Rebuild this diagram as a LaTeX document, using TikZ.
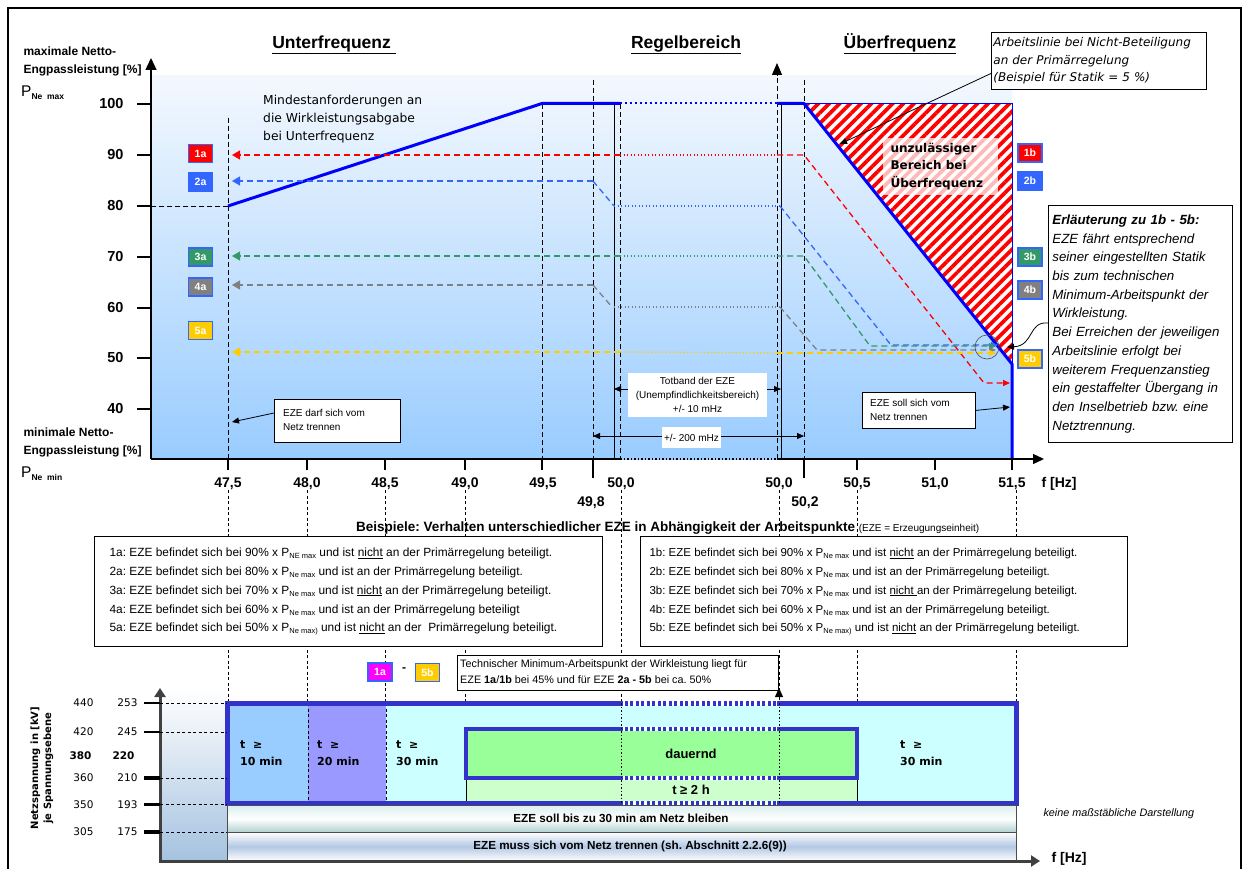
\documentclass[tikz,border=0pt]{standalone}
\usepackage{fontspec}
\setmainfont{Liberation Sans}
\newfontfamily\dv{DejaVu Sans}
\usetikzlibrary{arrows.meta,patterns.meta}
\newcommand\fs[2]{\fontsize{#1}{#2}\selectfont}
\newcommand\Psb[1]{P\raisebox{-2.2pt}{\fs{7.5}{7.5}#1}}
\definecolor{cRed}{HTML}{FF0000}
\definecolor{cBlue}{HTML}{3366FF}
\definecolor{cGreen}{HTML}{339966}
\definecolor{cGrey}{HTML}{808080}
\definecolor{cYel}{HTML}{FFCC00}
\definecolor{cMag}{HTML}{FF00FF}
\definecolor{lineBlue}{HTML}{0000FF}
\definecolor{frameBlue}{HTML}{3333CC}
\definecolor{skyB}{HTML}{99CCFF}
\definecolor{topB}{HTML}{F3F8FE}
\definecolor{lila}{HTML}{9999FF}
\definecolor{cyanL}{HTML}{CCFFFF}
\definecolor{greenM}{HTML}{99FF99}
\definecolor{greenL}{HTML}{CCFFCC}
\definecolor{axGrey}{HTML}{404040}
\definecolor{steel}{HTML}{A4C2E0}
\definecolor{tealA}{HTML}{DCEEEE}
\definecolor{tealB}{HTML}{B4D2D2}
\definecolor{bandB}{HTML}{B4C8E4}
\frenchspacing
\begin{document}
\frenchspacing
\begin{tikzpicture}[x=1pt,y=-1pt,
  dl/.style={line width=1.3pt,dash pattern=on 6pt off 4pt},
  dotl/.style={line width=1.3pt,dash pattern=on 1.3pt off 2.2pt},
  vgrid/.style={line width=1pt,dash pattern=on 5pt off 3pt},
  thgrid/.style={line width=0.6pt,dash pattern=on 3pt off 2.5pt},
  lab/.style={draw=cBlue,line width=1.3pt,text=white,font=\bfseries\fs{10.5}{10.5},minimum width=24pt,minimum height=18pt,inner sep=0pt},
  tipA/.style={-{Triangle[length=8pt,width=9pt]}},
  tipB/.style={-{Triangle[length=7pt,width=6pt]}},
  tipC/.style={{Triangle[length=7pt,width=6pt]}-{Triangle[length=7pt,width=6pt]}},
  ytl/.style={anchor=east,font=\bfseries\fs{14.5}{14.5}},
  xtl/.style={anchor=base,font=\bfseries\fs{14}{14}},
  exlA/.style={anchor=base west,font=\fs{11.9}{11.9}},
  exlB/.style={anchor=base west,font=\fs{11.5}{11.5}},
  vl/.style={anchor=east,font=\dv\fs{10.5}{10.5}},
  blk/.style={anchor=north west,inner sep=0pt,font=\dv\bfseries\fs{11}{17},align=left},
  tbox/.style={draw,fill=white,line width=0.8pt,inner sep=0pt},
]
\useasboundingbox (0,0) rectangle (1244,869);
\fill[white] (0,0) rectangle (1244,869);
% outer frame
\draw[line width=1.5pt] (8,869) -- (8,8) -- (1241,8) -- (1241,869);

% ================= upper chart =================
\shade[top color=topB,bottom color=skyB] (151,76) rectangle (1012,459);

% vertical dashed lines in chart
\draw[vgrid] (228,118) -- (228,459);
\draw[vgrid] (542,104) -- (542,459);
\draw[vgrid] (593,80) -- (593,459);
\draw[vgrid] (620,104) -- (620,459);
\draw[vgrid] (804,80) -- (804,459);
\draw[vgrid,-{Triangle[length=12pt,width=10pt]}] (777,459) -- (777,63);
\draw[line width=0.8pt] (614,104) -- (614,459);
\draw[line width=0.8pt] (781,104) -- (781,459);
\draw[vgrid] (151,206) -- (228,206);

% hatched forbidden area
\path[fill=white] (804,103.5) -- (1012,103.5) -- (1012,364) -- cycle;
\path[pattern={Lines[angle=45,distance=7.5pt,line width=3.7pt]},pattern color=cRed] (804,103.5) -- (1012,103.5) -- (1012,364) -- cycle;
\draw[lineBlue,line width=0.8pt] (804,103.5) -- (1012,103.5) -- (1012,364);
\node[fill=white,fill opacity=0.72,text opacity=1,anchor=north west,minimum width=115pt,minimum height=57pt,inner sep=0pt] (forbidbg) at (883,138) {};
\node[anchor=base west,font=\dv\bfseries\fs{12}{12}] (forb1) at (887,152.5) {unzulässiger};
\node[anchor=base west,font=\dv\bfseries\fs{12}{12}] (forb2) at (887,170) {Bereich bei};
\node[anchor=base west,font=\dv\bfseries\fs{12}{12}] (forb3) at (887,187.5) {Überfrequenz};

% minimum requirement line
\draw[lineBlue,line width=3pt,line join=round] (228,206) -- (542,103.5) -- (620,103.5);
\draw[lineBlue,line width=2pt,dash pattern=on 2pt off 3pt] (620,103.5) -- (777,103.5);
\draw[lineBlue,line width=3pt,line join=round] (777,103.5) -- (804,103.5) -- (1012,364) -- (1012,459);

% data lines
% 1 red
\draw[cRed,dl,tipA] (620,155) -- (232,155);
\draw[cRed,dotl] (620,155) -- (777,155);
\draw[cRed,dl,tipB] (777,155) -- (804,155) -- (984,383) -- (1010,383);
% 2 blue
\draw[cBlue,dl,tipA] (593,181) -- (232,181);
\draw[cBlue,dl] (593,181) -- (614,206);
\draw[cBlue,dotl] (614,206) -- (780,206);
\draw[cBlue,dl,tipB] (780,206) -- (891,345) -- (998,345);
% 3 green
\draw[cGreen,dl,tipA] (620,256) -- (232,256);
\draw[cGreen,dotl] (620,256) -- (777,256);
\draw[cGreen,dl,tipB] (777,256) -- (804,256) -- (870,346) -- (996,346);
% 4 grey
\draw[cGrey,dl,tipA] (593,285) -- (232,285);
\draw[cGrey,dl] (593,285) -- (612,307);
\draw[cGrey,dotl] (614,307) -- (780,307);
\draw[cGrey,dl,tipB] (780,307) -- (817,350) -- (996,350);
% 5 yellow
\draw[cYel,dl,tipA] (620,352) -- (232,352);
\draw[cYel,dotl] (620,352) -- (777,353);
\draw[cYel,dl,tipB] (777,353) -- (996,353);

% axes
\draw[line width=1.3pt,-{Triangle[length=12pt,width=11pt]}] (151,459) -- (151,58);
\draw[line width=1.3pt] (151,459) -- (620,459);
\draw[line width=1.3pt,dash pattern=on 1.5pt off 2pt] (620,459) -- (777,459);
\draw[line width=1.3pt,-{Triangle[length=11pt,width=10pt]}] (777,459) -- (1044,459);

% y ticks and labels
\foreach \v/\yy in {100/104,90/155,80/206,70/257,60/308,50/358,40/409}{
  \draw[line width=1.6pt] (137,\yy) -- (151,\yy);
  \node[ytl] (yt\v) at (127,\yy) {\v};
}
% x ticks
\foreach \xx in {228,307,385,465,542,857,935,1012}{
  \draw[line width=1.2pt] (\xx,459) -- (\xx,470);
}
\draw[line width=1.2pt] (593,459) -- (593,478);
\draw[line width=1.2pt] (804,459) -- (804,478);
\node[xtl] (x475) at (228,487) {47,5};
\node[xtl] (x480) at (307,487) {48,0};
\node[xtl] (x485) at (385,487) {48,5};
\node[xtl] (x490) at (465,487) {49,0};
\node[xtl] (x495) at (543,487) {49,5};
\node[xtl] (x498) at (591,506) {49,8};
\node[xtl] (x500a) at (621,487) {50,0};
\node[xtl] (x500b) at (779,487) {50,0};
\node[xtl] (x502) at (805,506) {50,2};
\node[xtl] (x505) at (857,487) {50,5};
\node[xtl] (x510) at (935,487) {51,0};
\node[xtl] (x515) at (1012,487) {51,5};
\node[anchor=base west,font=\bfseries\fs{14}{14}] (fhz) at (1038,487) {f [Hz]};

% axis titles
\node[anchor=base west,font=\bfseries\fs{12}{12}] (ymax1) at (20,55.7) {maximale Netto-};
\node[anchor=base west,font=\bfseries\fs{12}{12}] (ymax2) at (20,73.5) {Engpassleistung [\%]};
\node[anchor=base west,inner sep=0pt] (pmax) at (21,96.7) {\fs{15.5}{15.5}P\raisebox{-3pt}{\bfseries\fs{8.5}{8.5}Ne\ \ max}};
\node[anchor=base west,font=\bfseries\fs{12}{12}] (ymin1) at (20,436.5) {minimale Netto-};
\node[anchor=base west,font=\bfseries\fs{12}{12}] (ymin2) at (20,454.5) {Engpassleistung [\%]};
\node[anchor=base west,inner sep=0pt] (pmin) at (21,477) {\fs{15.5}{15.5}P\raisebox{-3pt}{\bfseries\fs{8.5}{8.5}Ne\ \ min}};

% titles
\node[anchor=base,font=\bfseries\fs{17.5}{17.5}] (tUnter) at (334,48.5) {\underline{Unterfrequenz\ }};
\node[anchor=base,font=\bfseries\fs{17.5}{17.5}] (tRegel) at (686,48.5) {\underline{Regelbereich}};
\node[anchor=base,font=\bfseries\fs{17.5}{17.5}] (tUeber) at (900,48.5) {\underline{Überfrequenz}};

% Mindestanforderungen text
\node[anchor=base west,font=\dv\fs{12.3}{12.3},inner sep=0pt] (mind1) at (263,104.5) {Mindestanforderungen an};
\node[anchor=base west,font=\dv\fs{12.3}{12.3},inner sep=0pt] (mind2) at (263,122.5) {die Wirkleistungsabgabe};
\node[anchor=base west,font=\dv\fs{12.3}{12.3},inner sep=0pt] (mind3) at (263,140.5) {bei Unterfrequenz};

% label boxes
\node[lab,fill=cRed] (l1a) at (200.5,153.5) {1a};
\node[lab,fill=cBlue] (l2a) at (200.5,182) {2a};
\node[lab,fill=cGreen] (l3a) at (200.5,257) {3a};
\node[lab,fill=cGrey] (l4a) at (200.5,287) {4a};
\node[lab,fill=cYel] (l5a) at (200.5,330.5) {5a};
\node[lab,fill=cRed] (l1b) at (1030,153) {1b};
\node[lab,fill=cBlue] (l2b) at (1030,181) {2b};
\node[lab,fill=cGreen] (l3b) at (1030,257) {3b};
\node[lab,fill=cGrey] (l4b) at (1030,290) {4b};
\node[lab,fill=cYel] (l5b) at (1030,359) {5b};

% Totband
\coordinate (tbL) at (614,389);
\coordinate (tbR) at (781,389);
\draw[line width=0.8pt,tipC] (tbL) -- (tbR);
\node[fill=white,minimum width=139pt,minimum height=44pt,inner sep=0pt,align=center,font=\fs{10}{14}] (totband) at (697.5,395) {Totband der EZE\\(Unempfindlichkeitsbereich)\\+/- 10 mHz};
\coordinate (dbL) at (593,436);
\coordinate (dbR) at (804,436);
\draw[line width=0.8pt,tipC] (dbL) -- (dbR);
\node[fill=white,minimum width=59pt,minimum height=21pt,inner sep=0pt,font=\fs{10}{10}] (db200) at (691.5,437.5) {+/- 200 mHz};

% EZE darf / soll trennen boxes
\node[tbox,anchor=north west,minimum width=126pt,minimum height=43pt] (darf) at (274,399) {};
\node[anchor=base west,font=\fs{10}{10},inner sep=0pt] (darf1) at (283,416) {EZE darf sich vom};
\node[anchor=base west,font=\fs{10}{10},inner sep=0pt] (darf2) at (283,430) {Netz trennen};
\coordinate (darfTip) at (232,422);
\draw[line width=0.8pt,tipB] (274,413) -- (darfTip);
\node[tbox,anchor=north west,minimum width=113pt,minimum height=36pt] (soll) at (862,392) {};
\node[anchor=base west,font=\fs{10}{10},inner sep=0pt] (soll1) at (870,406) {EZE soll sich vom};
\node[anchor=base west,font=\fs{10}{10},inner sep=0pt] (soll2) at (870,420) {Netz trennen};
\coordinate (sollTip) at (1010,407);
\draw[line width=0.8pt,tipB] (soll.east) -- (sollTip);

% Arbeitslinie callout
\node[tbox,anchor=north west,minimum width=215pt,minimum height=57pt,text width=211pt,align=left,inner xsep=2pt,font=\dv\itshape\fs{12}{17.3}] (arb) at (991,32) {Arbeitslinie bei Nicht-Beteiligung\\an der Primärregelung\\(Beispiel für Statik = 5 \%)};
\coordinate (arbTip) at (840,144);
\draw[line width=0.8pt,tipB] (992,73) -- (arbTip);

% explanation box
\node[tbox,anchor=north west,minimum width=184pt,minimum height=237pt,text width=176pt,inner xsep=4pt,align=left,font=\itshape\fs{13.3}{18.7}] (expl) at (1048,205) {\textbf{Erläuterung zu 1b - 5b:}\\EZE fährt entsprechend\\seiner eingestellten Statik\\bis zum technischen\\Minimum-Arbeitspunkt der\\Wirkleistung.\\Bei Erreichen der jeweiligen\\Arbeitslinie erfolgt bei\\weiterem Frequenzanstieg\\ein gestaffelter Übergang in\\den Inselbetrieb bzw. eine\\Netztrennung.};
\node[draw=black!70,circle,minimum size=24pt,inner sep=0pt,line width=0.6pt] (circ) at (987,347) {};
\coordinate (explTip) at (1007,347);
\draw[line width=0.8pt,tipB] (1048,323) .. controls (1028,321) and (1034,346) .. (explTip);

% ================= examples =================
\node[anchor=base west,font=\bfseries\fs{13.5}{13.5},inner sep=0pt] (beisp) at (356,531) {Beispiele: Verhalten unterschiedlicher EZE in Abhängigkeit der Arbeitspunkte \fs{10}{10}\mdseries(EZE = Erzeugungseinheit)};

% grid lines below axis
\foreach \xx in {228,307,385,465,621,857,1016}{
  \draw[thgrid] (\xx,490) -- (\xx,703);
}
\draw[thgrid] (779,490) -- (779,690);
\draw[line width=0.8pt,-{Triangle[length=9pt,width=8pt]}] (779,700) -- (779,688);

\node[tbox,anchor=north west,minimum width=508pt,minimum height=110pt] (boxA) at (94,536) {};
\node[tbox,anchor=north west,minimum width=487pt,minimum height=110pt] (boxB) at (640,536) {};
\node[exlA] (a1) at (106,556.5) {1a: EZE befindet sich bei 90\% x \Psb{NE max} und ist \underline{nicht} an der Primärregelung beteiligt.};
\node[exlA] (a2) at (106,575.5) {2a: EZE befindet sich bei 80\% x \Psb{Ne max} und ist an der Primärregelung beteiligt.};
\node[exlA] (a3) at (106,594) {3a: EZE befindet sich bei 70\% x \Psb{Ne max} und ist \underline{nicht} an der Primärregelung beteiligt.};
\node[exlA] (a4) at (106,613) {4a: EZE befindet sich bei 60\% x \Psb{Ne max} und ist an der Primärregelung beteiligt};
\node[exlA] (a5) at (106,631.5) {5a: EZE befindet sich bei 50\% x \Psb{Ne max)} und ist \underline{nicht} an der\ \ Primärregelung beteiligt.};
\node[exlB] (b1) at (646,556.5) {1b: EZE befindet sich bei 90\% x \Psb{Ne max} und ist \underline{nicht} an der Primärregelung beteiligt.};
\node[exlB] (b2) at (646,575.5) {2b: EZE befindet sich bei 80\% x \Psb{Ne max} und ist an der Primärregelung beteiligt.};
\node[exlB] (b3) at (646,594) {3b: EZE befindet sich bei 70\% x \Psb{Ne max} und ist \underline{nicht }an der Primärregelung beteiligt.};
\node[exlB] (b4) at (646,613) {4b: EZE befindet sich bei 60\% x \Psb{Ne max} und ist an der Primärregelung beteiligt.};
\node[exlB] (b5) at (646,631.5) {5b: EZE befindet sich bei 50\% x \Psb{Ne max)} und ist \underline{nicht} an der Primärregelung beteiligt.};

% mini legend + technical box
\node[lab,fill=cMag] (m1a) at (380,672) {1a};
\node[font=\bfseries\fs{12}{12}] (mdash) at (404,670) {-};
\node[lab,fill=cYel] (m5b) at (427.5,672.5) {5b};
\node[tbox,anchor=north west,minimum width=321pt,minimum height=35pt] (tech) at (457,655) {};
\node[anchor=base west,font=\fs{10.8}{10.8},inner sep=0pt] (tech1) at (460,667.5) {Technischer Minimum-Arbeitspunkt der Wirkleistung liegt für};
\node[anchor=base west,font=\fs{10.8}{10.8},inner sep=0pt] (tech2) at (460,683.5) {EZE \textbf{1a}/\textbf{1b} bei 45\% und für EZE \textbf{2a - 5b} bei ca. 50\%};

% ================= lower chart =================
\shade[top color=white,bottom color=steel] (160,690) rectangle (227,861);
% big box fills
\fill[cyanL] (227,703) rectangle (1016,803);
\fill[skyB] (227,703) rectangle (308,803);
\fill[lila] (308,703) rectangle (386,803);
\draw[thgrid] (308,703) -- (308,803);
\draw[thgrid] (386,703) -- (386,803);
\draw[fill=greenL,line width=0.8pt] (466,778) rectangle (857,803);
\draw[fill=greenM,draw=frameBlue,line width=4pt] (466,729) rectangle (857,778);
\draw[draw=frameBlue,line width=5pt] (227,703) rectangle (1016,803);
% dotted break section
\foreach \yy/\w in {703/5pt,729/4pt,778/4pt,803/5pt}{
  \draw[white,line width=\w,dash pattern=on 2.5pt off 3pt,dash phase=1pt] (623,\yy) -- (777,\yy);
}
\draw[thgrid,dash pattern=on 1.5pt off 2pt] (621,703) -- (621,803);
\draw[thgrid,dash pattern=on 1.5pt off 2pt] (779,703) -- (779,803);

\node[blk] (t10) at (240,741) {t\ \ ≥\\10 min};
\node[blk] (t20) at (317,741) {t\ \ ≥\\20 min};
\node[blk] (t30a) at (396,741) {t\ \ ≥\\30 min};
\node[blk] (t30b) at (900,741) {t\ \ ≥\\30 min};
\node[font=\bfseries\fs{13}{13}] (dauernd) at (691,754) {dauernd};
\node[font=\bfseries\fs{13}{13}] (t2h) at (691,790) {t ≥ 2 h};

% bands
\shade[top color=tealA,bottom color=tealB,middle color=white] (227,805.5) rectangle (1016,832);
\draw[line width=0.6pt,black!70] (227,805.5) rectangle (1016,832);
\shade[top color=white,bottom color=white,middle color=bandB] (227,832) rectangle (1016,861);
\draw[line width=0.6pt,black!70] (227,832) rectangle (1016,861);
\node[font=\bfseries\fs{11.7}{11.7}] (band1) at (621,818) {EZE soll bis zu 30 min am Netz bleiben};
\node[font=\bfseries\fs{11.7}{11.7}] (band2) at (630,846.5) {EZE muss sich vom Netz trennen (sh. Abschnitt 2.2.6(9))};
\node[anchor=west,font=\itshape\fs{10.8}{10.8}] (keine) at (1040,813.5) {keine maßstäbliche Darstellung};

% lower axes
\draw[axGrey,line width=3pt,-{Triangle[length=9pt,width=11pt]}] (160,862) -- (160,688);
\draw[axGrey,line width=3pt,-{Triangle[length=9pt,width=11pt]}] (158.5,861) -- (1040,861);
\node[anchor=base west,font=\bfseries\fs{14}{14}] (fhz2) at (1048,862) {f [Hz]};

% voltage ticks
\foreach \yy/\lw in {703/2.5pt,732/2.5pt,778/4pt,804.5/2.5pt,832/4pt}{
  \draw[line width=\lw] (144,\yy) -- (160,\yy);
  \draw[thgrid] (160,\yy) -- (227,\yy);
}
\node[vl] (v440) at (97,703) {440};
\node[vl] (v253) at (141,703) {253};
\node[vl] (v420) at (97,732) {420};
\node[vl] (v245) at (141,732) {245};
\node[vl,font=\dv\bfseries\fs{10.5}{10.5}] (v380) at (95,756) {380};
\node[vl,font=\dv\bfseries\fs{10.5}{10.5}] (v220) at (138,756) {220};
\node[vl] (v360) at (97,778) {360};
\node[vl] (v210) at (141,778) {210};
\node[vl] (v350) at (97,804.5) {350};
\node[vl] (v193) at (141,804.5) {193};
\node[vl] (v305) at (97,832) {305};
\node[vl] (v175) at (141,832) {175};
\node[rotate=90,align=center,font=\dv\bfseries\fs{10}{13}] (netzsp) at (42,768) {Netzspannung in [kV]\\je Spannungsebene};
\end{tikzpicture}
\end{document}
